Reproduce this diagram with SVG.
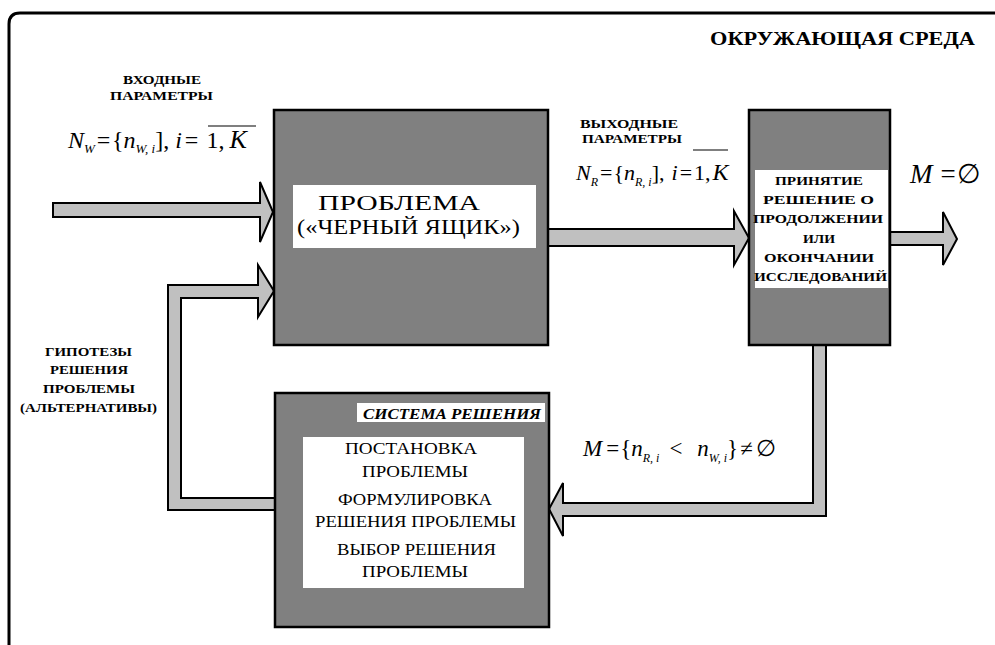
<svg xmlns="http://www.w3.org/2000/svg" width="995" height="645" viewBox="0 0 995 645">
  <style>
    .box { fill: #808080; stroke: #000; stroke-width: 2.5; }
    .pane { fill: #fff; }
    .arrow { fill: #c0c0c0; stroke: #000; stroke-width: 2; stroke-linejoin: miter; }
    .lbl { font-family: "Liberation Serif", "DejaVu Serif", serif; font-weight: bold; fill: #000; }
    .txt { font-family: "Liberation Serif", "DejaVu Serif", serif; fill: #000; }
    .math { font-family: "Liberation Serif", "DejaVu Serif", serif; fill: #000; }
    .it { font-style: italic; }
    .bar { stroke: #000; stroke-width: 1.2; }
  </style>

  <rect x="0" y="0" width="995" height="645" fill="#fff"/>

  <!-- environment frame -->
  <path d="M 9,645 V 24 Q 9,13 20,13 H 995" fill="none" stroke="#000" stroke-width="3"/>
  <text class="lbl" x="710" y="45" font-size="19" textLength="265" lengthAdjust="spacingAndGlyphs">ОКРУЖАЮЩАЯ СРЕДА</text>

  <!-- connectors -->
  <g id="connectors">
    <polygon class="arrow" points="53,203 260,203 260,182 273,212 260,242 260,217 53,217"/>
    <polygon class="arrow" points="275,510 168,510 168,285 258,285 258,265 274,291 258,317 258,298 181,298 181,498 275,498"/>
    <polygon class="arrow" points="548,229 734,229 734,211 749,238 734,265 734,246 548,246"/>
    <polygon class="arrow" points="890,232 943,232 943,212 957,239 943,265 943,245 890,245"/>
    <polygon class="arrow" points="813,345 813,503 563,503 563,483 549,509 563,536 563,516 826,516 826,345"/>
  </g>

  <!-- input parameters -->
  <g id="input-label">
    <text class="lbl" x="123" y="84" font-size="13" textLength="78" lengthAdjust="spacingAndGlyphs">ВХОДНЫЕ</text>
    <text class="lbl" x="110" y="100" font-size="13" textLength="103" lengthAdjust="spacingAndGlyphs">ПАРАМЕТРЫ</text>
    <text class="math" x="68" y="148" font-size="24"><tspan class="it">N</tspan><tspan class="it" dy="5" font-size="13">W</tspan><tspan dx="2" dy="-5">=</tspan><tspan dx="1.5">{</tspan><tspan class="it">n</tspan><tspan class="it" dy="5" font-size="13">W, i</tspan><tspan dy="-5">],</tspan><tspan class="it" dx="6">i</tspan><tspan dx="3">=</tspan><tspan dx="8">1,</tspan><tspan class="it" dx="5" font-size="26">K</tspan></text>
    <line class="bar" x1="208" y1="126" x2="256" y2="126"/>
  </g>

  <!-- problem block -->
  <g id="problem">
    <rect class="box" x="274" y="110" width="274" height="235"/>
    <rect class="pane" x="293" y="185" width="243" height="63"/>
    <text class="txt" x="318" y="210" font-size="20" textLength="162" lengthAdjust="spacingAndGlyphs">ПРОБЛЕМА</text>
    <text class="txt" x="297" y="234" font-size="20" textLength="223" lengthAdjust="spacingAndGlyphs">(«ЧЕРНЫЙ ЯЩИК»)</text>
  </g>

  <!-- output parameters -->
  <g id="output-label">
    <text class="lbl" x="580" y="128" font-size="12" textLength="98" lengthAdjust="spacingAndGlyphs">ВЫХОДНЫЕ</text>
    <text class="lbl" x="582" y="143" font-size="12" textLength="100" lengthAdjust="spacingAndGlyphs">ПАРАМЕТРЫ</text>
    <text class="math" x="576" y="180" font-size="22"><tspan class="it">N</tspan><tspan class="it" dy="6" font-size="12">R</tspan><tspan dx="2" dy="-6">=</tspan><tspan dx="1">{</tspan><tspan class="it">n</tspan><tspan class="it" dy="6" font-size="12">R, i</tspan><tspan dy="-6">],</tspan><tspan class="it" dx="7">i</tspan><tspan dx="2">=</tspan><tspan dx="2">1,</tspan><tspan class="it" dx="2" font-size="24">K</tspan></text>
    <line class="bar" x1="693" y1="150" x2="728" y2="150"/>
  </g>

  <!-- decision block -->
  <g id="decision">
    <rect class="box" x="749" y="110" width="141" height="235"/>
    <rect class="pane" x="755" y="170" width="133" height="118"/>
    <text class="lbl" x="775" y="185" font-size="12" textLength="88" lengthAdjust="spacingAndGlyphs">ПРИНЯТИЕ</text>
    <text class="lbl" x="763" y="204" font-size="12" textLength="111" lengthAdjust="spacingAndGlyphs">РЕШЕНИЕ О</text>
    <text class="lbl" x="753" y="223" font-size="12" textLength="130" lengthAdjust="spacingAndGlyphs">ПРОДОЛЖЕНИИ</text>
    <text class="lbl" x="803" y="243" font-size="12" textLength="32" lengthAdjust="spacingAndGlyphs">ИЛИ</text>
    <text class="lbl" x="764" y="262" font-size="12" textLength="110" lengthAdjust="spacingAndGlyphs">ОКОНЧАНИИ</text>
    <text class="lbl" x="754" y="281" font-size="12" textLength="133" lengthAdjust="spacingAndGlyphs">ИССЛЕДОВАНИЙ</text>
  </g>

  <!-- empty result -->
  <g id="result">
    <text class="math" x="910" y="183" font-size="27"><tspan class="it">M</tspan><tspan dx="8">=</tspan><tspan dx="1">∅</tspan></text>
  </g>

  <!-- hypotheses -->
  <g id="hypotheses-label">
    <text class="lbl" x="45" y="356" font-size="13" textLength="87" lengthAdjust="spacingAndGlyphs">ГИПОТЕЗЫ</text>
    <text class="lbl" x="50" y="374" font-size="13" textLength="78" lengthAdjust="spacingAndGlyphs">РЕШЕНИЯ</text>
    <text class="lbl" x="43" y="393" font-size="13" textLength="92" lengthAdjust="spacingAndGlyphs">ПРОБЛЕМЫ</text>
    <text class="lbl" x="20" y="412" font-size="13" textLength="137" lengthAdjust="spacingAndGlyphs">(АЛЬТЕРНАТИВЫ)</text>
  </g>

  <!-- feedback condition -->
  <g id="condition">
    <text class="math" x="583" y="456" font-size="23"><tspan class="it">M</tspan><tspan dx="4">=</tspan><tspan dx="1">{</tspan><tspan class="it">n</tspan><tspan class="it" dy="6" font-size="12">R, i</tspan><tspan dx="10" dy="-6">&lt;</tspan><tspan class="it" dx="15">n</tspan><tspan class="it" dy="6" font-size="12">W, i</tspan><tspan dy="-6">}</tspan><tspan dx="2">≠</tspan><tspan dx="3">∅</tspan></text>
  </g>

  <!-- solution system block -->
  <g id="solution-system">
    <rect class="box" x="275" y="393" width="274" height="234"/>
    <rect class="pane" x="357" y="403" width="188" height="19"/>
    <text class="lbl it" x="363" y="419" font-size="15" textLength="178" lengthAdjust="spacingAndGlyphs">СИСТЕМА РЕШЕНИЯ</text>
    <rect class="pane" x="303" y="437" width="221" height="151"/>
    <text class="txt" x="345" y="454" font-size="17" textLength="132" lengthAdjust="spacingAndGlyphs">ПОСТАНОВКА</text>
    <text class="txt" x="362" y="477" font-size="17" textLength="106" lengthAdjust="spacingAndGlyphs">ПРОБЛЕМЫ</text>
    <text class="txt" x="338" y="505" font-size="17" textLength="154" lengthAdjust="spacingAndGlyphs">ФОРМУЛИРОВКА</text>
    <text class="txt" x="315" y="527" font-size="17" textLength="201" lengthAdjust="spacingAndGlyphs">РЕШЕНИЯ ПРОБЛЕМЫ</text>
    <text class="txt" x="337" y="555" font-size="17" textLength="159" lengthAdjust="spacingAndGlyphs">ВЫБОР РЕШЕНИЯ</text>
    <text class="txt" x="362" y="577" font-size="17" textLength="106" lengthAdjust="spacingAndGlyphs">ПРОБЛЕМЫ</text>
  </g>
</svg>
